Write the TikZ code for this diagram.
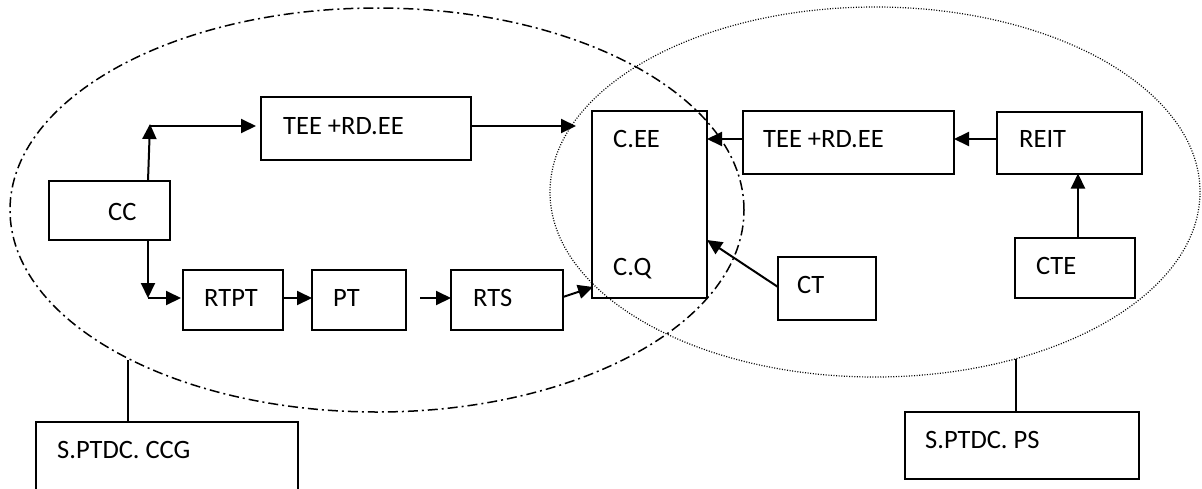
\documentclass[tikz,border=0pt]{standalone}
\usepackage{fontspec}
\setmainfont{Carlito}
\usetikzlibrary{arrows.meta,shapes.geometric}
\begin{document}
\begin{tikzpicture}[x=1pt,y=-1pt,
  box/.style={draw,line width=2pt,inner sep=0pt,outer sep=0pt},
  txt/.style={inner sep=0pt,anchor=base west,font=\fontsize{26.5pt}{32pt}\selectfont},
  arr/.style={line width=2pt,-{Triangle[length=15pt,width=14pt]}},
  dashdot/.style={line width=1.5pt,dash pattern=on 10pt off 4pt on 2pt off 4pt},
  dotline/.style={line width=1.2pt,dash pattern=on 1pt off 1.6pt},
  conn/.style={line width=1.6pt}]
\useasboundingbox (0,0) rectangle (1202,488);
\clip (0,0) rectangle (1202,488);
% ellipses
\node[ellipse,draw,dashdot,inner sep=0pt,minimum width=734pt,minimum height=404pt] (E1) at (377,210) {};
\node[ellipse,draw,dotline,inner sep=0pt,minimum width=650pt,minimum height=370pt] (E2) at (875,192) {};
% boxes
\node[box,minimum width=121pt,minimum height=59pt] (cc) at (109.5,210.5) {};
\node[box,minimum width=210pt,minimum height=63pt] (tee1) at (366,128.5) {};
\node[box,minimum width=115pt,minimum height=187pt] (ceq) at (649.5,204.5) {};
\node[box,minimum width=211pt,minimum height=63pt] (tee2) at (848.5,142.5) {};
\node[box,minimum width=145pt,minimum height=62pt] (reit) at (1069.5,142.5) {};
\node[box,minimum width=120pt,minimum height=60pt] (cte) at (1075,268) {};
\node[box,minimum width=98pt,minimum height=63pt] (ct) at (827,288.5) {};
\node[box,minimum width=100pt,minimum height=60pt] (rtpt) at (233,300) {};
\node[box,minimum width=94pt,minimum height=60pt] (pt) at (359,300) {};
\node[box,minimum width=112pt,minimum height=60pt] (rts) at (507,300) {};
\node[box,minimum width=262pt,minimum height=90pt] (ccg) at (167,467) {};
\node[box,minimum width=234pt,minimum height=67pt] (ps) at (1022,445.5) {};
% texts
\node[txt] (tcc) at (108,220) {CC};
\node[txt] (ttee1) at (283,134) {TEE +RD.EE};
\node[txt] (tcee) at (613,147) {C.EE};
\node[txt] (tcq) at (613,275) {C.Q};
\node[txt] (ttee2) at (763,147) {TEE +RD.EE};
\node[txt] (treit) at (1019,147) {REIT};
\node[txt] (tcte) at (1036,274) {CTE};
\node[txt] (tct) at (797,293) {CT};
\node[txt] (trtpt) at (204,306) {RTPT};
\node[txt] (tpt) at (333,306) {PT};
\node[txt] (trts) at (473,306) {RTS};
\node[txt] (tccg) at (57,458) {S.PTDC. CCG};
\node[txt] (tps) at (925,448) {S.PTDC. PS};
% helper coordinates
\coordinate (c1) at (148,181);
\coordinate (k1) at (150,124);
\coordinate (c2) at (148,240);
\coordinate (k2) at (148,298);
\coordinate (f1) at (576,126);
\coordinate (k3) at (0,139);
\coordinate (k4) at (1078,0);
\coordinate (pts) at (420,298);
\coordinate (rtsout) at (563,297);
\coordinate (cqin) at (593,287);
\coordinate (ctout) at (778,287);
\coordinate (cqin2) at (707,240);
\coordinate (e1) at (128,360);
\coordinate (e2) at (1016,359);
% connectors
\draw[arr] (c1) -- (k1);
\draw[arr,shorten >=5pt] (k1 |- f1) -- (tee1.west |- f1);
\draw[arr] (c2) -- (k2);
\draw[arr,shorten >=2pt] (k2) -- (rtpt.west |- k2);
\draw[arr] (rtpt.east |- k2) -- (pt.west |- k2);
\draw[arr] (pts) -- (rts.west |- pts);
\draw[arr] (rtsout) -- (cqin);
\draw[arr] (tee1.east |- f1) -- (f1);
\draw[arr] (tee2.west |- k3) -- (ceq.east |- k3);
\draw[arr] (reit.west |- k3) -- (tee2.east |- k3);
\draw[arr] (cte.north -| k4) -- (reit.south -| k4);
\draw[arr] (ctout) -- (cqin2);
\draw[conn] (e1) -- (e1 |- ccg.north);
\draw[conn] (e2) -- (e2 |- ps.north);
\end{tikzpicture}
\end{document}
